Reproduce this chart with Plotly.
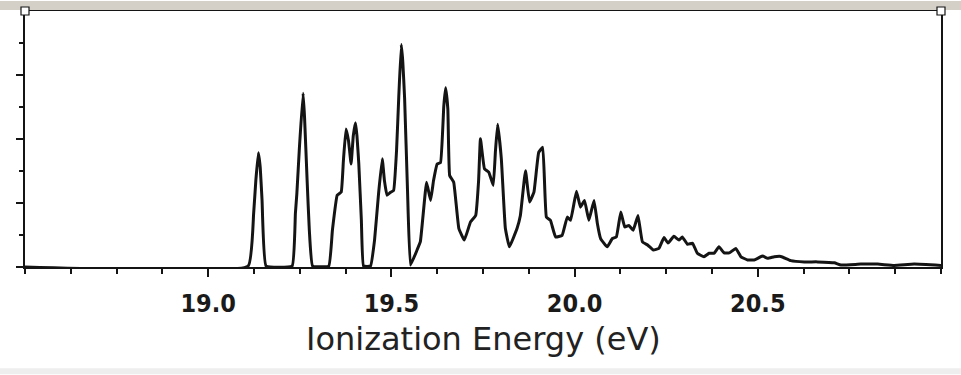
import plotly.graph_objects as go

# Photoelectron spectrum trace (energy in eV, intensity in arbitrary units)
energy_ev = [
    18.500, 19.109, 19.124, 19.130, 19.137, 19.142, 19.147, 19.158,
    19.229, 19.238, 19.242, 19.249, 19.259, 19.263, 19.270, 19.276, 19.285,
    19.329, 19.339, 19.352, 19.363, 19.369, 19.376, 19.383, 19.390, 19.396,
    19.402, 19.406, 19.411, 19.418, 19.424, 19.443,
    19.454, 19.465, 19.475, 19.481, 19.488, 19.497, 19.506, 19.514, 19.520,
    19.527, 19.531, 19.536, 19.544, 19.552,
    19.570, 19.579, 19.596, 19.607, 19.615, 19.625, 19.634, 19.643, 19.648,
    19.654, 19.659, 19.670, 19.684, 19.699, 19.716, 19.730, 19.738, 19.743,
    19.754, 19.766, 19.778, 19.784, 19.790, 19.800, 19.811, 19.822, 19.843,
    19.852, 19.866, 19.877, 19.889, 19.902, 19.913, 19.923, 19.934, 19.948,
    19.966, 19.980, 19.989, 20.005, 20.016, 20.027, 20.039, 20.053, 20.062,
    20.071, 20.089, 20.103, 20.114, 20.126, 20.137, 20.148, 20.160, 20.173,
    20.185, 20.200, 20.215, 20.230, 20.244, 20.255, 20.271, 20.285, 20.294,
    20.308, 20.322, 20.335, 20.353, 20.367, 20.381, 20.394, 20.408, 20.422,
    20.440, 20.454, 20.472, 20.490, 20.513, 20.527, 20.545, 20.563, 20.590,
    20.627, 20.663, 20.709, 20.727, 20.781, 20.827, 20.872, 20.927, 21.000,
]
intensity = [
    0.00, 0.03, 1.67, 2.70, 3.57, 3.11, 2.08, 0.03,
    0.03, 1.68, 2.30, 3.74, 5.43, 4.67, 2.70, 1.15, 0.03,
    0.03, 1.15, 2.24, 2.34, 3.32, 4.31, 3.94, 3.22, 4.10,
    4.51, 4.10, 3.23, 1.46, 0.03, 0.03,
    0.84, 2.30, 3.38, 2.70, 2.24, 2.33, 2.39, 3.63, 5.29,
    6.95, 6.43, 5.29, 2.39, 0.06,
    0.53, 0.79, 2.65, 2.08, 2.70, 3.22, 3.26, 5.03, 5.60,
    4.94, 2.86, 2.65, 1.21, 0.84, 1.41, 1.61, 2.70, 4.01,
    3.07, 2.96, 2.55, 3.63, 4.46, 3.39, 1.21, 0.63, 1.21,
    1.61, 3.01, 2.03, 2.34, 3.58, 3.74, 1.56, 1.46, 0.94,
    0.99, 1.56, 1.46, 2.37, 1.87, 2.08, 1.46, 2.08, 1.37,
    0.89, 0.63, 0.89, 0.94, 1.72, 1.25, 1.30, 1.15, 1.61,
    0.79, 0.68, 0.53, 0.58, 0.92, 0.75, 0.96, 0.84, 0.94,
    0.71, 0.74, 0.43, 0.32, 0.43, 0.43, 0.63, 0.44, 0.44,
    0.58, 0.32, 0.22, 0.22, 0.34, 0.27, 0.32, 0.33, 0.20,
    0.16, 0.16, 0.13, 0.06, 0.09, 0.09, 0.05, 0.09, 0.05,
]

tick_values = [19.0, 19.5, 20.0, 20.5]
tick_labels = ["19.0", "19.5", "20.0", "20.5"]
x_title = "Ionization Energy (eV)"

INK = "#141414"
W, H = 961, 375
ML, MR, MT, MB = 25, 20, 9, 108
plot_h = H - MT - MB

fig = go.Figure()
fig.add_trace(go.Scatter(
    x=energy_ev, y=intensity, mode="lines",
    line=dict(color=INK, width=3, shape="spline", smoothing=0.3),
    hoverinfo="skip", showlegend=False,
))

fig.update_layout(
    width=W, height=H, autosize=False,
    margin=dict(l=ML, r=MR, t=MT, b=MB, pad=0),
    paper_bgcolor="white", plot_bgcolor="white",
    showlegend=False,
    xaxis=dict(
        range=[18.5, 21.0], showgrid=False, zeroline=False,
        showline=True, linecolor=INK, linewidth=2, mirror=True,
        ticks="outside", ticklen=8, tickwidth=2, tickcolor=INK,
        tickmode="array", tickvals=tick_values, ticktext=tick_labels,
        tickfont=dict(family="Liberation Sans Narrow, DejaVu Sans Condensed, Arial Narrow, sans-serif",
                      size=25, color="#1a1a1a", weight="bold"),
        ticklabelstandoff=5,
        minor=dict(tickmode="linear", tick0=18.5, dtick=0.125, ticks="outside",
                   ticklen=5, tickwidth=1.6, tickcolor=INK, showgrid=False),
    ),
    yaxis=dict(
        range=[0, 8], showgrid=False, zeroline=False,
        showline=True, linecolor=INK, linewidth=2, mirror=True,
        ticks="outside", ticklen=7, tickwidth=2, tickcolor=INK,
        tickmode="array", tickvals=[0, 2, 4, 6], showticklabels=False,
        minor=dict(tickmode="array", tickvals=[1, 3, 5, 7], ticks="outside",
                   ticklen=4, tickwidth=2, tickcolor=INK, showgrid=False),
    ),
)

# axis title as text below the plot
fig.add_annotation(
    text=x_title, xref="paper", yref="paper", x=0.5, y=(267 - 340) / plot_h,
    xanchor="center", yanchor="middle", showarrow=False,
    font=dict(family="DejaVu Sans, sans-serif", size=32, color="#222222"),
)

# window-chrome look: grey band on top and selection handles at the top corners
fig.add_shape(type="rect", xref="paper", yref="paper", x0=-0.1, x1=1.1,
              y0=1 + 1.0 / plot_h, y1=1 + 10.0 / plot_h,
              fillcolor="#d4d0c8", line=dict(width=0), layer="above")
fig.add_shape(type="rect", xref="paper", yref="paper", x0=-0.1, x1=1.1,
              y0=(267 - 375) / plot_h, y1=(267 - 369) / plot_h,
              fillcolor="#eeeeee", line=dict(width=0), layer="above")
for xa in (0, 1):
    fig.add_shape(type="rect", xref="paper", yref="paper",
                  xsizemode="pixel", ysizemode="pixel",
                  xanchor=xa, yanchor=1, x0=-4, x1=4, y0=-4, y1=4,
                  fillcolor="white", line=dict(color=INK, width=1.2), layer="above")

fig.write_html("out.html", config={"displayModeBar": False},
               post_script="document.body.style.margin='0';")
